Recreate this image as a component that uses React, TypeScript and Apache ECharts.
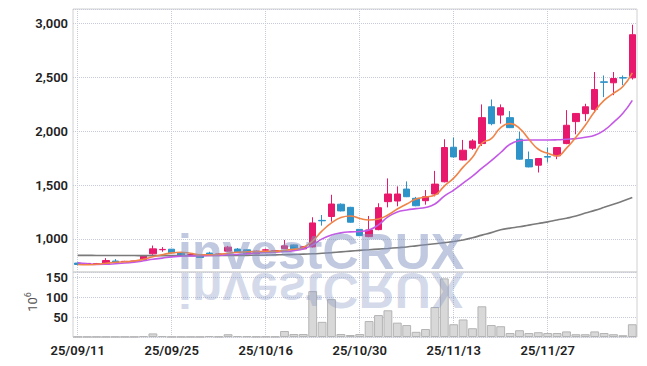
import React, { useEffect, useRef } from "react";
import * as echarts from "echarts";

const dates = [
  "25/09/11", "25/09/12", "25/09/15", "25/09/16", "25/09/17", "25/09/18", "25/09/19", "25/09/22", "25/09/23", "25/09/24",
  "25/09/25", "25/09/26", "25/09/29", "25/09/30", "25/10/01", "25/10/02", "25/10/10", "25/10/13", "25/10/14", "25/10/15",
  "25/10/16", "25/10/17", "25/10/20", "25/10/21", "25/10/22", "25/10/23", "25/10/24", "25/10/27", "25/10/28", "25/10/29",
  "25/10/30", "25/10/31", "25/11/03", "25/11/04", "25/11/05", "25/11/06", "25/11/07", "25/11/10", "25/11/11", "25/11/12",
  "25/11/13", "25/11/14", "25/11/17", "25/11/18", "25/11/19", "25/11/20", "25/11/21", "25/11/24", "25/11/25", "25/11/26",
  "25/11/27", "25/11/28", "25/12/01", "25/12/02", "25/12/03", "25/12/04", "25/12/05", "25/12/08", "25/12/09", "25/12/10",
];

const opens = [
  775, 770, 768, 768, 794, 788, 790, 806, 861, 899,
  904, 868, 845, 846, 868, 855, 886, 905, 898, 861,
  895, 888, 910, 944, 907, 925, 1172, 1208, 1322, 1293,
  1088, 1021, 1086, 1346, 1352, 1463, 1377, 1355, 1417, 1531,
  1852, 1734, 1843, 1886, 2228, 2151, 2127, 1926, 1738, 1685,
  1765, 1772, 1886, 2090, 2164, 2204, 2460, 2451, 2499, 2497,
];
const closes = [
  762, 772, 771, 799, 781, 791, 794, 843, 907, 902,
  870, 843, 855, 827, 848, 860, 923, 880, 861, 886,
  898, 890, 935, 907, 927, 1148, 1168, 1324, 1260, 1155,
  1030, 1083, 1290, 1417, 1417, 1392, 1308, 1392, 1509, 1849,
  1762, 1824, 1910, 2127, 2071, 2219, 2034, 1741, 1669, 1747,
  1760, 1849, 2056, 2166, 2228, 2389, 2455, 2491, 2495, 2898,
];
const lows = [
  755, 765, 764, 765, 778, 785, 788, 803, 852, 880,
  866, 840, 842, 824, 845, 850, 882, 876, 857, 858,
  885, 884, 905, 903, 904, 920, 1123, 1160, 1255, 1150,
  1025, 1015, 1080, 1293, 1303, 1388, 1303, 1318, 1395, 1525,
  1755, 1730, 1827, 1864, 2056, 2071, 2030, 1736, 1665, 1617,
  1710, 1741, 1880, 1972, 2095, 2173, 2318, 2336, 2429, 2481,
];
const highs = [
  780, 776, 776, 821, 812, 796, 797, 848, 938, 923,
  906, 872, 860, 850, 880, 866, 935, 915, 902, 890,
  910, 894, 990, 948, 932, 1201, 1222, 1410, 1330, 1298,
  1092, 1213, 1331, 1562, 1488, 1534, 1390, 1454, 1632, 1926,
  1942, 1920, 1926, 2250, 2296, 2250, 2188, 1997, 1812, 1752,
  1849, 1852, 2197, 2170, 2256, 2551, 2519, 2551, 2519, 2991,
];

const ma5 = [
  762, 759, 764, 773, 782, 787, 794, 810, 833, 852,
  870, 875, 866, 852, 852, 856, 866, 875, 880, 882,
  884, 884, 894, 903, 921, 981, 1074, 1148, 1199, 1213,
  1190, 1176, 1185, 1222, 1278, 1324, 1370, 1389, 1407, 1491,
  1565, 1667, 1759, 1889, 1932, 2034, 2071, 2028, 1926, 1833,
  1796, 1771, 1843, 1944, 2056, 2185, 2287, 2352, 2417, 2543,
];
const ma20 = [
  778, 769, 762, 764, 769, 775, 784, 796, 810, 821,
  833, 838, 841, 843, 845, 847, 852, 856, 861, 870,
  873, 877, 882, 891, 907, 944, 1000, 1037, 1056, 1065,
  1069, 1083, 1130, 1204, 1250, 1269, 1281, 1292, 1324, 1398,
  1454, 1519, 1583, 1657, 1727, 1803, 1880, 1912, 1919, 1919,
  1919, 1921, 1926, 1932, 1944, 1963, 2009, 2083, 2167, 2287,
];
const maLong = [
  847, 847, 846, 846, 845, 845, 845, 844, 844, 844,
  844, 844, 844, 845, 845, 845, 846, 846, 847, 848,
  849, 851, 853, 855, 858, 861, 866, 872, 879, 886,
  893, 899, 905, 911, 918, 925, 935, 945, 955, 965,
  975, 990, 1010, 1035, 1058, 1085, 1100, 1112, 1128, 1143,
  1158, 1175, 1192, 1212, 1240, 1265, 1293, 1322, 1352, 1385,
];

const volumes = [
  0.5, 0.5, 0.5, 0.5, 0.5, 0.5, 0.5, 2.5, 9, 2.5,
  0.5, 0.5, 0.5, 0.5, 2.5, 1, 7, 2.5, 2, 1,
  1.5, 1, 15, 7.5, 7.5, 115, 38, 95, 7.5, 5,
  7.5, 40, 55, 67, 36, 30, 13, 20, 75, 147,
  32, 44, 22, 77, 30, 27, 10, 17, 10, 12,
  10, 10, 14, 7, 7, 14, 10, 7, 4.5, 32,
];

const UP = "#e8196c";
const DOWN = "#2e93c8";
const GRID_LINE = "#c6cad9";
const LABEL_FONT = "Roboto";

export default function App() {
  const ref = useRef<HTMLDivElement>(null);

  useEffect(() => {
    if (!ref.current) return;
    const chart = echarts.init(ref.current, undefined, { renderer: "svg" });
    const candleData = dates.map((_, i) => [opens[i], closes[i], lows[i], highs[i]]);
    const splitLineX = {
      show: true,
      interval: 9,
      alignWithLabel: true,
      lineStyle: { type: "dotted", color: GRID_LINE, width: 1 },
    };
    const wmFont = 'bold 50px "Liberation Sans", Arial, sans-serif';
    chart.setOption({
      animation: false,
      backgroundColor: "#ffffff",
      grid: [
        { left: 73, right: 10, top: 9, height: 263, show: true, borderColor: "#d0d0d0", borderWidth: 1 },
        { left: 73, right: 10, top: 272, height: 65, show: true, borderColor: "#d0d0d0", borderWidth: 1 },
      ],
      xAxis: [
        {
          type: "category",
          gridIndex: 0,
          data: dates,
          boundaryGap: true,
          axisLine: { show: false },
          axisTick: { show: false },
          axisLabel: { show: false, interval: 9 },
          splitLine: splitLineX,
        },
        {
          type: "category",
          gridIndex: 1,
          data: dates,
          boundaryGap: true,
          axisLine: { show: false },
          axisTick: { show: false },
          axisLabel: {
            interval: 9,
            margin: 7,
            color: "#222",
            fontFamily: LABEL_FONT,
            fontWeight: 600,
            fontSize: 13,
          },
          splitLine: splitLineX,
        },
      ],
      yAxis: [
        {
          type: "value",
          gridIndex: 0,
          min: 692,
          max: 3137,
          splitNumber: 5,
          axisLine: { show: false },
          axisTick: { show: false },
          axisLabel: {
            showMinLabel: false,
            showMaxLabel: false,
            margin: 5,
            color: "#222",
            fontFamily: LABEL_FONT,
            fontWeight: 600,
            fontSize: 13,
            formatter: (v: number) => v.toLocaleString("en-US"),
          },
          splitLine: { show: true, lineStyle: { type: "dotted", color: GRID_LINE } },
        },
        {
          type: "value",
          gridIndex: 1,
          min: 0,
          max: 163,
          interval: 50,
          axisLine: { show: false },
          axisTick: { show: false },
          axisLabel: {
            showMinLabel: false,
            showMaxLabel: false,
            margin: 5,
            color: "#222",
            fontFamily: LABEL_FONT,
            fontWeight: 600,
            fontSize: 13,
          },
          splitLine: { show: true, lineStyle: { type: "dotted", color: GRID_LINE } },
        },
      ],
      series: [
        {
          type: "candlestick",
          xAxisIndex: 0,
          yAxisIndex: 0,
          data: candleData,
          barWidth: 7,
          itemStyle: { color: UP, color0: DOWN, borderColor: UP, borderColor0: DOWN, borderWidth: 1 },
        },
        {
          type: "line",
          xAxisIndex: 0,
          yAxisIndex: 0,
          data: maLong,
          smooth: true,
          showSymbol: false,
          lineStyle: { color: "#7a7a7a", width: 1.6 },
        },
        {
          type: "line",
          xAxisIndex: 0,
          yAxisIndex: 0,
          data: ma20,
          smooth: true,
          showSymbol: false,
          lineStyle: { color: "#c459e6", width: 1.6 },
        },
        {
          type: "line",
          xAxisIndex: 0,
          yAxisIndex: 0,
          data: ma5,
          smooth: true,
          showSymbol: false,
          lineStyle: { color: "#f08448", width: 1.6 },
        },
        {
          type: "bar",
          xAxisIndex: 1,
          yAxisIndex: 1,
          data: volumes,
          barCategoryGap: "6%",
          itemStyle: { color: "#d8d8d8", borderColor: "#b4b4b4", borderWidth: 1 },
        },
      ],
      graphic: [
        {
          type: "text",
          x: 178,
          y: 271,
          z: 100,
          silent: true,
          style: { text: "investCRUX", x: 0, y: -19, verticalAlign: "middle", align: "left", font: wmFont, fill: "rgba(130,148,192,0.5)" },
        },
        {
          type: "text",
          x: 178,
          y: 271,
          scaleY: -1,
          z: 100,
          silent: true,
          style: { text: "investCRUX", x: 0, y: -19, verticalAlign: "middle", align: "left", font: wmFont, fill: "rgba(130,148,192,0.34)" },
        },
        {
          type: "text",
          x: 31,
          y: 302,
          rotation: Math.PI / 2,
          silent: true,
          style: {
            text: "{b|10}{s|6}",
            align: "center",
            verticalAlign: "middle",
            rich: {
              b: { fontSize: 13, fontFamily: "Roboto", fill: "#555", verticalAlign: "bottom", lineHeight: 16 },
              s: { fontSize: 9, fontFamily: "Roboto", fill: "#555", verticalAlign: "top", lineHeight: 16 },
            },
          },
        },
      ],
    });
    return () => chart.dispose();
  }, []);

  return <div ref={ref} style={{ position: "fixed", left: 0, top: 0, width: 647, height: 366 }} />;
}
